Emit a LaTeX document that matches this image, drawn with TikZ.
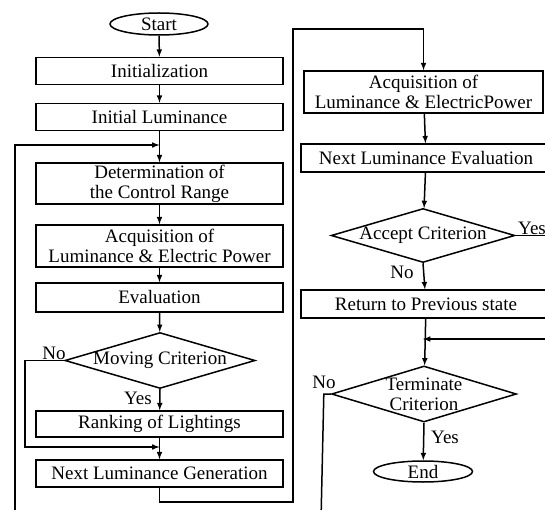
\documentclass[tikz,border=0pt]{standalone}
\usepackage{fontspec}
\setmainfont{Liberation Serif}
\usetikzlibrary{shapes.geometric,positioning,arrows}

\begin{document}
\begin{tikzpicture}[x=1pt,y=-1pt,line width=1.5pt,>=latex,align=center,
    font=\fontsize{19}{20}\selectfont,
    stepbox/.style={draw,minimum width=247pt,minimum height=27pt,inner sep=1pt},
    wide/.style={stepbox,minimum width=250pt},
    termin/.style={draw,ellipse,minimum width=98pt,minimum height=22pt,inner sep=0pt},
    decide/.style={draw,diamond,aspect=3.4,inner sep=0pt},
    lbl/.style={inner sep=0pt}]

\useasboundingbox (0,0) rectangle (545,510);
\clip (0,0) rectangle (545,510);

% left column
\node[termin] (start) at (159,24) {Start};
\node[stepbox] (init) at (159.5,71) {Initialization};
\node[stepbox] (initlum) at (159.5,117) {Initial Luminance};
\node[stepbox,minimum height=41pt] (range) at (159.5,183.5) {Determination of\\the Control Range};
\node[stepbox,minimum height=42pt] (acq) at (159.5,246) {Acquisition of\\Luminance \& Electric Power};
\node[stepbox,minimum height=29pt] (eval) at (159.5,297.5) {Evaluation};
\node[decide] (moving) at (160,360.5) {Moving Criterion};
\node[stepbox,minimum height=26pt] (rank) at (159.5,424) {Ranking of Lightings};
\node[stepbox] (nextgen) at (159.5,473.5) {Next Luminance Generation};

% right column
\node[stepbox,minimum width=239pt,minimum height=42pt] (acqtwo) at (423.5,92) {Acquisition of\\Luminance \& ElectricPower};
\node[wide,minimum height=28pt] (nexteval) at (426,158) {Next Luminance Evaluation};
\node[decide] (accept) at (423,235.5) {Accept Criterion};
\node[wide,minimum height=28pt] (back) at (426,304) {Return to Previous state};
\node[decide,aspect=3.3] (stop) at (424,394) {Terminate\\Criterion};
\node[termin,minimum width=99pt,minimum height=21pt] (end) at (423,471.5) {End};

% junctions and free ends
\coordinate (jtop) at (159.5,145);
\coordinate (jmid) at (159.5,447);
\coordinate (jlow) at (423,339);
\coordinate (loopL) at (15,520);
\coordinate (loopR) at (293,29);
\coordinate (yesR) at (560,235.5);
\coordinate (inR) at (560,339);
\coordinate (noL) at (321,520);

% connectors
\draw[->] (start) -- (init);
\draw[->] (init) -- (initlum);
\draw[->] (initlum) -- (range);
\draw[->] (loopL) |- (jtop);
\draw[->] (range) -- (acq);
\draw[->] (acq) -- (eval);
\draw[->] (eval) -- (moving);
\draw[->] (moving.south) -- (rank);
\draw[->] (moving.west) -- ++(-39,0) |- (jmid);
\draw[->] (rank) -- (nextgen);
\draw[->] (nextgen.south) -- ++(0,14) -| (loopR) -| (acqtwo.north);
\draw[->] (acqtwo) -- (nexteval);
\draw[->] (nexteval) -- (accept);
\draw (accept.east) -- (yesR);
\draw[->] (accept.south) -- (back);
\draw[->] (back) -- (stop);
\draw[->] (inR) -- (jlow);
\draw (stop.west) -- ++(-7,0) -- (noL);
\draw[->] (stop.south) -- (end);

% branch labels
\node[lbl] (nomove) at (54,353) {No};
\node[lbl] (yesmove) at (138,398) {Yes};
\node[lbl] (yesacc) at (532,228) {Yes};
\node[lbl] (noacc) at (402,272) {No};
\node[lbl] (nostop) at (324,382) {No};
\node[lbl] (yesstop) at (445,437) {Yes};

\end{tikzpicture}
\end{document}
